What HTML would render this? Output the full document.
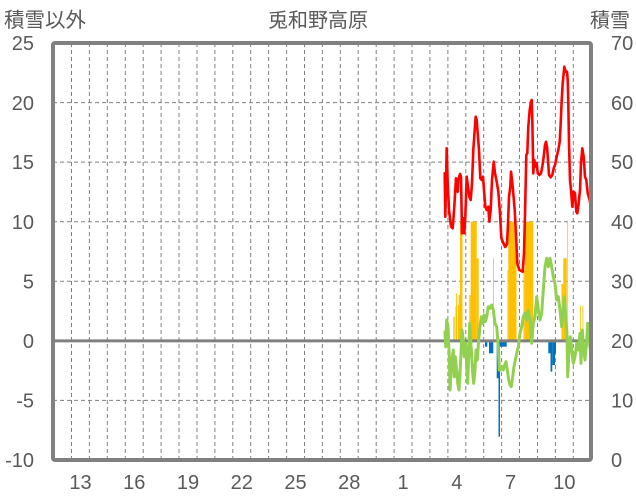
<!DOCTYPE html>
<html>
<head>
<meta charset="utf-8">
<style>
  html, body { margin:0; padding:0; background:#ffffff; }
  svg { display:block; }
  .t { font-family:"Liberation Sans","Noto Sans CJK JP",sans-serif; fill:#595959; }
</style>
</head>
<body>
<svg width="636" height="501" viewBox="0 0 636 501" xmlns="http://www.w3.org/2000/svg">
  <rect x="0" y="0" width="636" height="501" fill="#ffffff"/>

  <!-- titles -->
  <text class="t" x="318" y="27" font-size="20" text-anchor="middle">兎和野高原</text>
  <text class="t" x="4" y="27" font-size="20.5">積雪以外</text>
  <text class="t" x="590" y="27" font-size="20">積雪</text>

  <!-- horizontal gridlines -->
  <g stroke="#808080" stroke-width="1" stroke-dasharray="4,3" fill="none">
    <line x1="53" y1="102.6" x2="591" y2="102.6"/>
    <line x1="53" y1="162.1" x2="591" y2="162.1"/>
    <line x1="53" y1="221.7" x2="591" y2="221.7"/>
    <line x1="53" y1="281.3" x2="591" y2="281.3"/>
    <line x1="53" y1="400.4" x2="591" y2="400.4"/>
  </g>
  <!-- vertical gridlines -->
  <g stroke="#808080" stroke-width="1" stroke-dasharray="4,3" fill="none">
    <line x1="71.5" y1="43" x2="71.5" y2="460"/>
    <line x1="89.4" y1="43" x2="89.4" y2="460"/>
    <line x1="107.3" y1="43" x2="107.3" y2="460"/>
    <line x1="125.3" y1="43" x2="125.3" y2="460"/>
    <line x1="143.2" y1="43" x2="143.2" y2="460"/>
    <line x1="161.1" y1="43" x2="161.1" y2="460"/>
    <line x1="179.0" y1="43" x2="179.0" y2="460"/>
    <line x1="197.0" y1="43" x2="197.0" y2="460"/>
    <line x1="214.9" y1="43" x2="214.9" y2="460"/>
    <line x1="232.8" y1="43" x2="232.8" y2="460"/>
    <line x1="250.7" y1="43" x2="250.7" y2="460"/>
    <line x1="268.6" y1="43" x2="268.6" y2="460"/>
    <line x1="286.6" y1="43" x2="286.6" y2="460"/>
    <line x1="304.5" y1="43" x2="304.5" y2="460"/>
    <line x1="322.4" y1="43" x2="322.4" y2="460"/>
    <line x1="340.3" y1="43" x2="340.3" y2="460"/>
    <line x1="358.2" y1="43" x2="358.2" y2="460"/>
    <line x1="376.2" y1="43" x2="376.2" y2="460"/>
    <line x1="394.1" y1="43" x2="394.1" y2="460"/>
    <line x1="412.0" y1="43" x2="412.0" y2="460"/>
    <line x1="429.9" y1="43" x2="429.9" y2="460"/>
    <line x1="447.9" y1="43" x2="447.9" y2="460"/>
    <line x1="465.8" y1="43" x2="465.8" y2="460"/>
    <line x1="483.7" y1="43" x2="483.7" y2="460"/>
    <line x1="501.6" y1="43" x2="501.6" y2="460"/>
    <line x1="519.5" y1="43" x2="519.5" y2="460"/>
    <line x1="537.5" y1="43" x2="537.5" y2="460"/>
    <line x1="555.4" y1="43" x2="555.4" y2="460"/>
    <line x1="573.3" y1="43" x2="573.3" y2="460"/>
  </g>

  <!-- orange bars -->
  <g fill="#FFC000">
    <rect x="453.3" y="316.7" width="1.4" height="24.2"/>
    <rect x="455.5" y="306.7" width="1.2" height="34.2"/>
    <rect x="456.2" y="293.3" width="1.1" height="47.6"/>
    <rect x="458" y="305" width="1.3" height="35.9"/>
    <rect x="458.7" y="295" width="1.3" height="45.9"/>
    <rect x="460" y="221.7" width="2.5" height="119.2"/>
    <rect x="469.3" y="295" width="1.4" height="45.9"/>
    <rect x="470.7" y="221.7" width="6" height="119.2"/>
    <rect x="476.7" y="258.3" width="2" height="82.6"/>
    <rect x="493" y="258.3" width="0.8" height="82.6"/>
    <rect x="507.5" y="270" width="0.8" height="70.9"/>
    <rect x="508.3" y="221.7" width="8.2" height="119.2"/>
    <rect x="523.5" y="270" width="1.3" height="70.9"/>
    <rect x="524.8" y="221.7" width="8.5" height="119.2"/>
    <rect x="561.5" y="284" width="1.8" height="56.9"/>
    <rect x="563.3" y="258.3" width="3.4" height="82.6"/>
    <rect x="566.9" y="221.7" width="0.8" height="119.2"/>
    <rect x="580" y="305.7" width="0.8" height="35.2"/>
    <rect x="582.5" y="305.7" width="0.8" height="35.2"/>
  </g>
  <!-- blue bars -->
  <g fill="#0070C0">
    <rect x="445" y="340.9" width="1" height="5.8"/>
    <rect x="485" y="340.9" width="2.3" height="5.8"/>
    <rect x="489" y="340.9" width="4.3" height="12.4"/>
    <rect x="496.7" y="340.9" width="1.8" height="37.4"/>
    <rect x="498.5" y="340.9" width="1.5" height="95.8"/>
    <rect x="500" y="340.9" width="6.7" height="5.8"/>
    <rect x="548.3" y="340.9" width="2.2" height="12.4"/>
    <rect x="550.5" y="340.9" width="1.8" height="30.8"/>
    <rect x="552.3" y="340.9" width="2.7" height="24.1"/>
    <rect x="555" y="340.9" width="1" height="12.4"/>
    <rect x="568.7" y="340.9" width="0.8" height="15.8"/>
    <rect x="576.7" y="340.9" width="1.3" height="3.5"/>
    <rect x="586.7" y="340.9" width="1" height="5.8"/>
  </g>

  <!-- zero line -->
  <line x1="53" y1="340.9" x2="591" y2="340.9" stroke="#808080" stroke-width="3"/>

  <!-- green line -->
  <polyline fill="none" stroke="#92D050" stroke-width="3" stroke-linejoin="round" stroke-linecap="round"
    points="445,331.7 445.7,346.7 446.7,320 448,326.7 449.3,356.7 450,390 451,373.3 452,360 453.3,350 454.3,376.7 455.3,356.7 456.7,370 457.7,383.3 459,390 460,373.3 461,353.3 462,330 463.3,340 464.3,356.7 465.7,343.3 466.7,366.7 467.7,383.3 468.7,353.3 469.7,323.3 470.7,340 471.7,356.7 472.7,373.3 473.7,383.3 475,370 476,350 477.3,360 478.7,340 480,326.7 481.3,316.7 482.7,323.3 484,315 485.3,321.7 486.7,316.7 488.3,306.7 490,308.3 491.7,305 493.3,310 495,323.3 496.7,326.7 498.3,346.7 499.3,370 500.7,370 502,366.7 503.3,370 504.7,365 506,361.7 507.3,370 508.7,380 510,385 511.3,386.7 512.7,376.7 514,366.7 515.3,360 516.7,353.3 518.3,346.7 520,333.3 521.7,326.7 523.3,316.7 525,313.3 526.7,320 528.3,310 530,320 531.7,343.3 533.3,323.3 535,316.7 536.7,296.7 538.3,310 540,320 541.7,313.3 543.3,290 545,266.7 546.7,258.3 548.3,266.7 550,258.3 551.7,266.7 553.3,276.7 555,283.3 556.7,300 558.3,296.7 560,310 561.7,326.7 562.7,316.7 564.3,296.7 565.7,316.7 567,333.3 567.7,376.7 569,350 570.3,336.7 571.7,350 573.3,363.3 575,356.7 576.7,343.3 578.3,350 580,333.3 581,363.3 582.3,330 583.7,350 585,360 586.7,340 587.7,323.3 589,336.7 590.3,350 591.5,343.3"/>

  <!-- red line -->
  <polyline fill="none" stroke="#FF0000" stroke-width="2.6" stroke-linejoin="round" stroke-linecap="round"
    points="444.7,173.3 445.3,216.7 446.7,148.3 447.7,183.3 449,210 451,226.7 452.7,228.3 454.3,206.7 456,178.3 456.7,190 457.7,191.7 458.3,180 460,174 461,176.7 462,233.3 463.3,218.3 464.3,233.3 465.3,216.7 466.7,176.7 468,186.7 469.3,196.7 470.7,200 472,183.3 473.3,150 474.7,130 475.7,116.7 476.7,120 477.7,133.3 479,150 480.3,178.3 481.7,180 483,176.7 484,190 485.3,206.7 486.7,210 488.3,206.7 489.3,221.7 490.7,210 492,180 493.7,161.7 495,173.3 496.7,181.7 498.3,191.7 500,213.3 501.3,238 503.3,243 505.3,247 507,244 508,224 509,196.7 510.3,186.7 511,171.7 512,180 513,190 514.7,210 516,235 517.3,263.3 519.3,270 522.7,271.7 524,253 525,215 526.3,155 527.3,153.3 528.3,126.7 529.7,110 531,101.7 531.7,100 532.3,120 533.3,173.3 534.3,160 535.7,166.7 536.7,163.3 537.7,173.3 539.3,175 541,173.3 542.3,166.7 543.7,156.7 545,145 546,141.7 547,146.7 548,160 549,175 550.7,177.3 552.3,175 553.7,168.3 555,165 556.7,156.7 558.3,150 559.7,141.7 560.7,123.3 561.7,100 562.7,83.3 563.7,73.3 564.3,66.7 565.7,71.7 567,71.7 567.7,80 568.3,103.3 569,143.3 570,180 571,190 572.3,206.7 573.7,191.7 575,193.3 576.3,211.7 577.3,213.3 578.3,206.7 580,190 581,163.3 582.3,148.3 583.7,156.7 585,176.7 586.3,180 587.7,193.3 589.7,200 591,208"/>

  <!-- frame -->
  <rect x="53" y="43" width="538" height="417" fill="none" stroke="#808080" stroke-width="4" rx="2"/>

  <!-- left axis labels -->
  <g class="t" font-size="20" text-anchor="end">
    <text x="34" y="50">25</text>
    <text x="34" y="110">20</text>
    <text x="34" y="169">15</text>
    <text x="34" y="229">10</text>
    <text x="34" y="288.5">5</text>
    <text x="34" y="348">0</text>
    <text x="34" y="407.5">-5</text>
    <text x="34" y="467">-10</text>
  </g>
  <!-- right axis labels -->
  <g class="t" font-size="20" text-anchor="start">
    <text x="611" y="50">70</text>
    <text x="611" y="110">60</text>
    <text x="611" y="169">50</text>
    <text x="611" y="229">40</text>
    <text x="611" y="288.5">30</text>
    <text x="611" y="348">20</text>
    <text x="611" y="407.5">10</text>
    <text x="611" y="467">0</text>
  </g>
  <!-- bottom labels -->
  <g class="t" font-size="20" text-anchor="middle">
    <text x="80.5" y="489">13</text>
    <text x="134.3" y="489">16</text>
    <text x="188" y="489">19</text>
    <text x="241.8" y="489">22</text>
    <text x="295.5" y="489">25</text>
    <text x="349.3" y="489">28</text>
    <text x="403" y="489">1</text>
    <text x="456.8" y="489">4</text>
    <text x="510.6" y="489">7</text>
    <text x="564.4" y="489">10</text>
  </g>
</svg>
</body>
</html>
